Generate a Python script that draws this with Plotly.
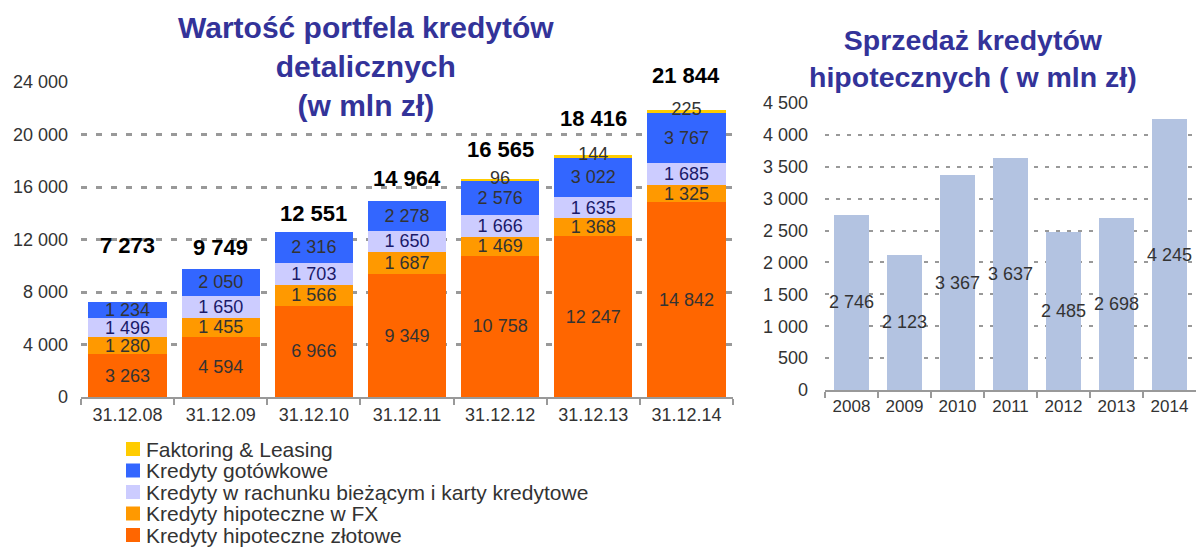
import plotly.graph_objects as go

# ---------------- data ----------------
dates = ["31.12.08", "31.12.09", "31.12.10", "31.12.11", "31.12.12", "31.12.13", "31.12.14"]
hip_pln = [3263, 4594, 6966, 9349, 10758, 12247, 14842]
hip_fx = [1280, 1455, 1566, 1687, 1469, 1368, 1325]
rachunek = [1496, 1650, 1703, 1650, 1666, 1635, 1685]
gotowkowe = [1234, 2050, 2316, 2278, 2576, 3022, 3767]
faktoring = [0, 0, 0, 0, 96, 144, 225]

years = ["2008", "2009", "2010", "2011", "2012", "2013", "2014"]
sprzedaz_hip = [2746, 2123, 3367, 3637, 2485, 2698, 4245]

left_ticks = [0, 4000, 8000, 12000, 16000, 20000, 24000]
right_ticks = [0, 500, 1000, 1500, 2000, 2500, 3000, 3500, 4000, 4500]

series_names = [
    "Kredyty hipoteczne złotowe",
    "Kredyty hipoteczne w FX",
    "Kredyty w rachunku bieżącym i karty kredytowe",
    "Kredyty gotówkowe",
    "Faktoring & Leasing",
]

# ---------------- style ----------------
FONT = "Liberation Sans, Arial, sans-serif"
TXT = "#333333"
NAVY = "#1a1a6a"
TITLE = "#333399"
GRID = "#999999"
colors = ["#FF6600", "#FF9900", "#CCCCFF", "#3366FF", "#FFCC00"]
label_colors = [TXT, TXT, NAVY, TXT, TXT]
total_label_lift = [56, 22, 19, 22, 30, 37, 35]

W, H = 1196, 548


def fmt(v):
    return f"{v:,}".replace(",", " ")


series = [hip_pln, hip_fx, rachunek, gotowkowe, faktoring]
totals = [sum(vals) for vals in zip(*series)]

fig = go.Figure()

for name, vals, col, lcol in zip(series_names, series, colors, label_colors):
    show_text = name != "Faktoring & Leasing"
    fig.add_trace(go.Bar(
        x=dates, y=vals, name=name, marker=dict(color=col, line=dict(width=0)),
        width=0.84,
        text=[fmt(v) for v in vals] if show_text else None,
        textposition="inside", insidetextanchor="middle", textangle=0,
        constraintext="none",
        textfont=dict(family=FONT, size=18, color=lcol),
        xaxis="x", yaxis="y", showlegend=False, hoverinfo="x+y+name",
    ))

# Faktoring labels at stack top
fig.add_trace(go.Scatter(
    x=dates, y=totals, mode="text",
    text=[fmt(v) if v > 0 else "" for v in faktoring],
    textposition="middle center",
    textfont=dict(family=FONT, size=18, color=TXT),
    cliponaxis=False, showlegend=False, hoverinfo="skip",
    xaxis="x", yaxis="y",
))

# right chart
fig.add_trace(go.Bar(
    x=years, y=sprzedaz_hip, marker=dict(color="#B3C3E1", line=dict(width=0)),
    width=0.67,
    text=[fmt(v) for v in sprzedaz_hip],
    textposition="inside", insidetextanchor="middle", textangle=0,
    constraintext="none",
    textfont=dict(family=FONT, size=18, color=TXT),
    xaxis="x2", yaxis="y2", showlegend=False,
))

annotations = []
for d, t, lift in zip(dates, totals, total_label_lift):
    annotations.append(dict(
        x=d, y=t, xref="x", yref="y", text=f"<b>{fmt(t)}</b>", showarrow=False,
        yanchor="middle", yshift=lift,
        font=dict(family=FONT, size=22, color="#000000"),
    ))

# titles
annotations.append(dict(
    x=366 / W, y=1 - 66 / H, xref="paper", yref="paper",
    text="<b>Wartość portfela kredytów<br>detalicznych<br>(w mln zł)</b>",
    showarrow=False, xanchor="center", yanchor="middle", align="center",
    font=dict(family=FONT, size=30, color=TITLE),
))
annotations.append(dict(
    x=973 / W, y=1 - 58 / H, xref="paper", yref="paper",
    text="<b>Sprzedaż kredytów<br>hipotecznych ( w mln zł)</b>",
    showarrow=False, xanchor="center", yanchor="middle", align="center",
    font=dict(family=FONT, size=28.5, color=TITLE),
))

# manual legend (top item = top of stack)
shapes = []
row0, row_step = 449, 21.5
for i, (name, col) in enumerate(zip(series_names[::-1], colors[::-1])):
    yc = row0 + i * row_step
    shapes.append(dict(
        type="rect", xref="paper", yref="paper",
        x0=126 / W, x1=140 / W, y0=1 - (yc + 7) / H, y1=1 - (yc - 7) / H,
        fillcolor=col, line=dict(width=0),
    ))
    annotations.append(dict(
        x=144 / W, y=1 - yc / H, xref="paper", yref="paper", text=name,
        showarrow=False, xanchor="left", yanchor="middle",
        font=dict(family=FONT, size=21, color=TXT),
    ))

axis_common = dict(
    showline=True, linecolor=GRID, linewidth=2,
    ticks="outside", tickson="boundaries", ticklen=6, tickcolor=GRID, tickwidth=2,
    showgrid=False, zeroline=False, type="category", automargin=False,
)

fig.update_layout(
    width=W, height=H, autosize=False,
    margin=dict(l=0, r=0, t=0, b=0, pad=0),
    paper_bgcolor="white", plot_bgcolor="white",
    separators=", ",
    barmode="stack",
    font=dict(family=FONT, color=TXT),
    xaxis=dict(domain=[81 / W, 733 / W], anchor="y",
               tickfont=dict(family=FONT, size=18, color=TXT), **axis_common),
    yaxis=dict(domain=[1 - 397 / H, 1 - 82 / H], anchor="x", range=[0, 24000],
               tickvals=left_ticks, ticklabelstandoff=12,
               showgrid=True, gridcolor=GRID, gridwidth=3, griddash="6px,9px",
               zeroline=False, showline=False, ticks="", tickformat=",d", automargin=False,
               tickfont=dict(family=FONT, size=18, color=TXT)),
    xaxis2=dict(domain=[825 / W, 1.0], anchor="y2",
                tickfont=dict(family=FONT, size=17, color=TXT), **axis_common),
    yaxis2=dict(domain=[1 - 390 / H, 1 - 103 / H], anchor="x2", range=[0, 4500],
                tickvals=right_ticks, ticklabelstandoff=16,
                showgrid=True, gridcolor=GRID, gridwidth=2, griddash="4px,7px",
                zeroline=False, showline=False, ticks="", tickformat=",d", automargin=False,
                tickfont=dict(family=FONT, size=18, color=TXT)),
    annotations=annotations,
    shapes=shapes,
)
fig.update_traces(selector=dict(type="bar"), cliponaxis=False)

fig.write_html(
    "out.html",
    config={"displayModeBar": False},
    post_script="document.body.style.margin='0';document.body.style.overflow='hidden';",
)
